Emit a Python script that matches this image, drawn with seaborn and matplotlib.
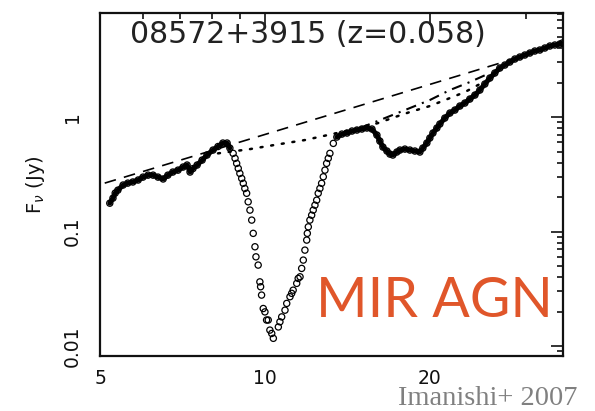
import numpy as np
import pandas as pd
import matplotlib
matplotlib.use("Agg")
import matplotlib.pyplot as plt
import seaborn as sns
from matplotlib.ticker import FixedLocator, FixedFormatter, NullFormatter, LogLocator

# ---------------- data ----------------
# observed wavelength [micron] / flux density [Jy]
wave_blue = [5.21, 5.28, 5.33, 5.39, 5.51, 5.62, 5.74, 5.87, 5.99, 6.12, 6.25, 6.38,
             6.52, 6.65, 6.79, 6.94, 7.09, 7.21, 7.30, 7.39, 7.52, 7.68, 7.84, 8.04,
             8.21, 8.38, 8.53, 8.63]
flux_blue = [0.177, 0.196, 0.217, 0.230, 0.255, 0.265, 0.271, 0.282, 0.299, 0.311, 0.311, 0.299,
             0.288, 0.311, 0.331, 0.344, 0.366, 0.381, 0.331, 0.355, 0.381, 0.421, 0.466, 0.515,
             0.553, 0.593, 0.593, 0.536]

wave_sil = [8.75, 8.82, 8.88, 8.94, 9.00, 9.07, 9.13, 9.19, 9.26, 9.32, 9.39, 9.46, 9.52,
            9.59, 9.63, 9.72, 9.79, 9.82, 9.86, 9.93, 10.00, 10.07, 10.14, 10.21, 10.29, 10.36,
            10.58, 10.65, 10.73, 10.88, 10.96, 11.11, 11.19, 11.26, 11.43, 11.50, 11.59, 11.67,
            11.75, 11.83, 11.92, 11.95, 12.00, 12.08, 12.17, 12.25, 12.34, 12.43, 12.51, 12.60,
            12.69, 12.78, 12.87, 12.96, 13.05, 13.14, 13.33]
flux_sil = [0.482, 0.436, 0.394, 0.356, 0.322, 0.291, 0.264, 0.238, 0.216, 0.182, 0.154, 0.126, 0.0965,
            0.0737, 0.0602, 0.0510, 0.0364, 0.0330, 0.0279, 0.0213, 0.0199, 0.0169, 0.0169, 0.0138, 0.0129, 0.0117,
            0.0147, 0.0163, 0.0180, 0.0206, 0.0236, 0.0270, 0.0289, 0.0308, 0.0353, 0.0390, 0.0403, 0.0477,
            0.0564, 0.0689, 0.0843, 0.0965, 0.110, 0.126, 0.139, 0.154, 0.170, 0.188, 0.216, 0.238,
            0.264, 0.301, 0.344, 0.394, 0.436, 0.482, 0.589]

wave_red = [13.53, 13.82, 14.12, 14.42, 14.72, 15.03, 15.35, 15.68, 16.01, 16.21, 16.42, 16.70,
            16.91, 17.12, 17.41, 17.64, 18.01, 18.39, 18.78, 19.18, 19.42, 19.75, 20.00, 20.26,
            20.60, 20.86, 21.30, 21.76, 22.22, 22.69, 23.17, 23.66, 24.17, 24.68, 25.20, 25.74,
            26.28, 26.84, 27.41, 27.99, 28.59, 29.19, 29.81, 30.45, 31.09, 31.75, 32.43, 33.12,
            33.82, 34.54, 34.90]
flux_red = [0.669, 0.710, 0.725, 0.755, 0.770, 0.786, 0.802, 0.786, 0.696, 0.617, 0.547, 0.505,
            0.475, 0.466, 0.495, 0.515, 0.525, 0.515, 0.505, 0.495, 0.536, 0.593, 0.656, 0.725,
            0.802, 0.869, 0.980, 1.084, 1.151, 1.248, 1.325, 1.436, 1.556, 1.721, 1.942, 2.191,
            2.423, 2.679, 2.845, 3.022, 3.211, 3.342, 3.479, 3.622, 3.771, 3.847, 4.006, 4.170,
            4.255, 4.342, 4.430]

# continuum lines
dash_wave = [5.10, 29.2]
dash_flux = [0.265, 3.34]
dot_wave = [8.21, 9.39, 10.65, 11.83, 13.53, 14.91, 16.08, 17.27, 18.39, 20.00, 21.76, 23.17, 24.68]
dot_flux = [0.482, 0.525, 0.581, 0.630, 0.725, 0.802, 0.886, 1.000, 1.106, 1.248, 1.465, 1.653, 1.942]
dashdot_wave = [14.91, 16.91, 18.39, 20.00, 21.76, 23.66, 25.74]
dashdot_flux = [0.802, 1.020, 1.198, 1.408, 1.721, 2.021, 2.423]

xtick_vals = [5, 10, 20]
xtick_labels = ["5", "10", "20"]
xminor_vals = [6, 7, 8, 9, 30]
ytick_vals = [0.01, 0.1, 1]
ytick_labels = ["0.01", "0.1", "1"]

title_text = "08572+3915 (z=0.058)"
ylabel_text = r"F$_\nu$ (Jy)"
tag_text = "MIR AGN"
ref_text = "Imanishi+ 2007"

# ---------------- figure ----------------
sns.set_style("white")
plt.rcParams["font.family"] = ["DejaVu Sans"]

W, H = 595, 411
fig = plt.figure(figsize=(W / 100, H / 100), dpi=100)
ax = fig.add_axes([100 / W, 1 - 356 / H, 463 / W, 343 / H])
ax.set_xscale("log")
ax.set_yscale("log")

df_blue = pd.DataFrame({"wave": wave_blue, "flux": flux_blue})
df_sil = pd.DataFrame({"wave": wave_sil, "flux": flux_sil})
df_red = pd.DataFrame({"wave": wave_red, "flux": flux_red})
df_all = pd.concat([df_blue, df_sil, df_red], ignore_index=True)

# dense parts look like a thick band
for d in (df_blue, df_red):
    sns.lineplot(data=d, x="wave", y="flux", color="black", linewidth=3.6,
                 sort=False, estimator=None, ax=ax)
sns.scatterplot(data=df_all, x="wave", y="flux", marker="o", s=20,
                facecolors="none", edgecolor="black", linewidth=0.9, ax=ax, zorder=3)

sns.lineplot(x=dash_wave, y=dash_flux, color="black", linewidth=1.2,
             linestyle=(0, (7, 5)), sort=False, estimator=None, ax=ax)
sns.lineplot(x=dot_wave, y=dot_flux, color="black", linewidth=1.8,
             linestyle=(0, (0.8, 3.5)), dash_capstyle="round", sort=False, estimator=None, ax=ax)
sns.lineplot(x=dashdot_wave, y=dashdot_flux, color="black", linewidth=1.5,
             linestyle=(0, (5, 3, 1, 3)), sort=False, estimator=None, ax=ax)

ax.set_xlim(5, 35)
ax.set_ylim(0.0082, 8.1)

ax.xaxis.set_major_locator(FixedLocator(xtick_vals))
ax.xaxis.set_major_formatter(FixedFormatter(xtick_labels))
ax.xaxis.set_minor_locator(FixedLocator(xminor_vals))
ax.xaxis.set_minor_formatter(NullFormatter())
ax.yaxis.set_major_locator(FixedLocator(ytick_vals))
ax.yaxis.set_major_formatter(FixedFormatter(ytick_labels))
ax.yaxis.set_minor_locator(LogLocator(base=10, subs=np.arange(2, 10)))
ax.yaxis.set_minor_formatter(NullFormatter())

ax.tick_params(which="both", direction="in", top=True, right=True, color="#111111", width=1.2)
ax.tick_params(which="major", length=8.5)
ax.tick_params(which="minor", length=4.2)
ax.tick_params(axis="x", which="major", pad=9, labelsize=13.5, labelcolor="#111111")
ax.tick_params(axis="y", which="major", pad=13, labelsize=13.5, labelcolor="#111111")
for lbl in ax.get_yticklabels():
    lbl.set_rotation(90)
    lbl.set_va("center")

for sp in ax.spines.values():
    sp.set_linewidth(1.6)
    sp.set_color("#111111")

ax.set_xlabel("")
ax.set_ylabel(ylabel_text, fontsize=14, color="#111111")
ax.yaxis.set_label_coords(-0.115, 0.5)

ax.text(0.45, 0.936, title_text, transform=ax.transAxes, ha="center", va="center",
        fontsize=21.5, color="#222222")

fig.text(316 / W, 1 - 317 / H, tag_text, family=["Lato", "DejaVu Sans"], fontsize=40,
         color="#E0562A", ha="left", va="baseline")
fig.text(398 / W, 1 - 405 / H, ref_text, family=["Liberation Serif", "DejaVu Serif"],
         fontsize=20.5, color="#808080", ha="left", va="baseline")

fig.savefig("out.png", dpi=100)
